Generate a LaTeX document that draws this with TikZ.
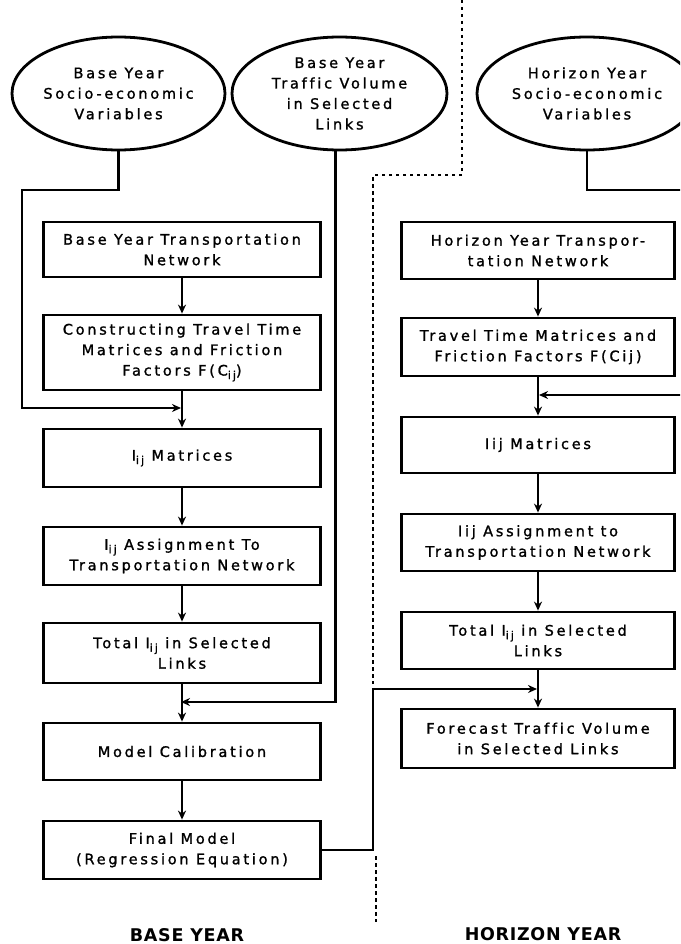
\documentclass[tikz,border=0pt]{standalone}
\usepackage{fontspec}
\setmainfont{DejaVu Sans}[LetterSpace=19,FakeBold=1.3,Ligatures=CommonOff]
\newfontfamily\lblfont{DejaVu Sans}[LetterSpace=4]
\usetikzlibrary{arrows.meta,shapes.geometric}
\newcommand{\ssij}{\raisebox{-0.45ex}{\fontsize{11}{11}\selectfont ij}}
\begin{document}
\begin{tikzpicture}[x=1pt,y=-1pt,
  txt/.style={font=\fontsize{14.5}{20.5}\selectfont},
  box/.style={txt, draw, line width=2.8pt, minimum width=277pt, align=center, inner sep=2pt},
  rbox/.style={box, minimum width=273pt},
  ell/.style={txt, draw, ellipse, line width=2.8pt, minimum width=213pt, minimum height=113pt, inner sep=0pt, align=center},
  conn/.style={line width=2.4pt},
  arr/.style={conn, -{Stealth[length=9pt,width=8pt]}},
  divider/.style={line width=2.8pt, dash pattern=on 3.5pt off 3.5pt},
  lbl/.style={font=\lblfont\bfseries\fontsize{17.5}{20}\selectfont}]
\useasboundingbox (0,0) rectangle (680,944);
\fill[white] (0,0) rectangle (680,944);
\clip (0,0) rectangle (680,944);

% ellipses
\node[ell] (bse) at (118.5,93.5) {Base Year\\Socio-economic\\Variables};
\node[ell, minimum width=215pt] (btv) at (339.5,93.5) {Base Year\\Traffic Volume\\in Selected\\Links};
\node[ell, minimum width=220pt] (hse) at (587,93.5) {Horizon Year\\Socio-economic\\Variables};

% left column
\node[box, minimum height=55pt] (L1) at (182,249.5) {Base Year Transportation\\Network};
\node[box, minimum height=75pt] (L2) at (182,352.5) {Constructing Travel Time\\Matrices and Friction\\Factors F(C\ssij)};
\node[box, minimum height=58pt] (L3) at (182,458) {I\ssij{} Matrices};
\node[box, minimum height=58pt] (L4) at (182,556) {I\ssij{} Assignment To\\Transportation Network};
\node[box, minimum height=60pt] (L5) at (182,653) {Total I\ssij{} in Selected\\Links};
\node[box, minimum height=57pt] (L6) at (182,751.5) {Model Calibration};
\node[box, minimum height=58pt] (L7) at (182,850) {Final Model\\(Regression Equation)};

% right column
\node[rbox, minimum height=57pt] (R1) at (538,250.5) {Horizon Year Transpor-\\tation Network};
\node[rbox, minimum height=58pt] (R2) at (538,347) {Travel Time Matrices and\\Friction Factors F(Cij)};
\node[rbox, minimum height=56pt] (R3) at (538,445) {Iij Matrices};
\node[rbox, minimum height=57pt] (R4) at (538,542.5) {Iij Assignment to\\Transportation Network};
\node[rbox, minimum height=57pt] (R5) at (538,640.5) {Total I\ssij{} in Selected\\Links};
\node[rbox, minimum height=59pt] (R6) at (538,738.5) {Forecast Traffic Volume\\in Selected Links};

% labels
\node[lbl] (by) at (187,935) {BASE YEAR};
\node[lbl] (hy) at (543,934) {HORIZON YEAR};

% junctions and bends
\coordinate (jL3) at (181,408);
\coordinate (jL6) at (181,702);
\coordinate (jR3) at (539,395);
\coordinate (jR6) at (537,689);
\coordinate (bL1) at (22,190);
\coordinate (bR1) at (700,190);
\coordinate (bR2) at (700,395);
\coordinate (bF) at (373,689);

% vertical flow arrows
\draw[arr] (L1) -- (L2);
\draw[arr] (L2) -- (L3);
\draw[arr] (L3) -- (L4);
\draw[arr] (L4) -- (L5);
\draw[arr] (L5) -- (L6);
\draw[arr] (L6) -- (L7);
\draw[arr] (R1) -- (R2);
\draw[arr] (R2) -- (R3);
\draw[arr] (R3) -- (R4);
\draw[arr] (R4) -- (R5);
\draw[arr] (R5) -- (R6);

% side feeds
\draw[arr] (bse.south) |- (bL1) |- (jL3);
\draw[arr] ([xshift=-4pt]btv.south) |- (jL6);
\draw[conn] (hse.south) |- (bR1);
\draw[arr] (bR2) -- (jR3);
\draw[arr] (L7.east) -| (bF) -- (jR6);

% divider
\draw[divider] (462,0) -- (462,175) -- (373,175) -- (373,684);
\draw[divider] (376,856) -- (376,922);
\end{tikzpicture}
\end{document}
